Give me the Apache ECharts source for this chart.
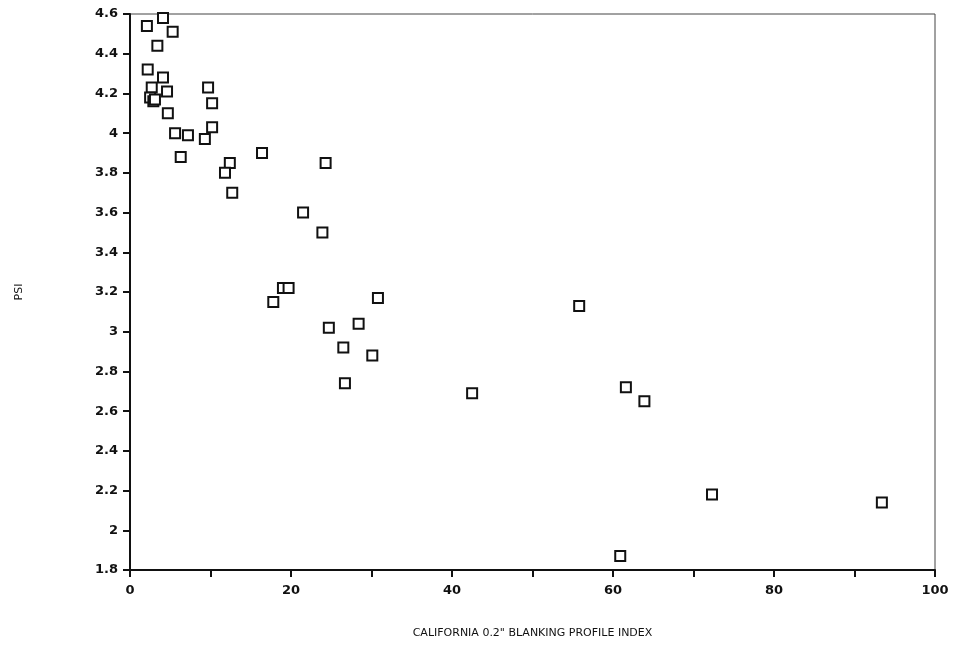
<!DOCTYPE html>
<html>
<head>
<meta charset="utf-8">
<script src="https://cdn.jsdelivr.net/npm/echarts@6/dist/echarts.min.js"></script>
<style>html,body{margin:0;padding:0;background:#fff;}#c{width:953px;height:645px;}</style>
</head>
<body>
<div id="c"></div>
<script>
const xValues = [2.1, 4.1, 5.3, 3.4, 2.2, 4.1, 2.7, 4.6, 2.5, 2.9, 3.1, 4.7, 5.6, 7.2, 6.3, 9.7, 10.2, 10.2, 9.3, 12.4, 11.8, 12.7, 16.4, 24.3, 21.5, 23.9, 19.0, 19.7, 17.8, 30.8, 24.7, 28.4, 26.5, 30.1, 26.7, 42.5, 55.8, 61.6, 63.9, 72.3, 93.4, 60.9];
const psiValues = [4.54, 4.58, 4.51, 4.44, 4.32, 4.28, 4.23, 4.21, 4.18, 4.16, 4.17, 4.10, 4.00, 3.99, 3.88, 4.23, 4.15, 4.03, 3.97, 3.85, 3.80, 3.70, 3.90, 3.85, 3.60, 3.50, 3.22, 3.22, 3.15, 3.17, 3.02, 3.04, 2.92, 2.88, 2.74, 2.69, 3.13, 2.72, 2.65, 2.18, 2.14, 1.87];
const xTitle = 'CALIFORNIA 0.2" BLANKING PROFILE INDEX';
const yTitle = 'PSI';

const chart = echarts.init(document.getElementById('c'));
const font = 'DejaVu Sans';
chart.setOption({
  animation: false,
  backgroundColor: '#fff',
  grid: {left: 130, right: 18, top: 14, bottom: 75, show: true, borderColor: '#444', borderWidth: 1},
  xAxis: {
    type: 'value', min: 0, max: 100, interval: 10,
    name: xTitle, nameLocation: 'middle', nameGap: 58,
    nameTextStyle: {fontFamily: font, fontSize: 11, color: '#111'},
    axisLine: {lineStyle: {color: '#111', width: 2}},
    axisTick: {length: 7, lineStyle: {color: '#111', width: 2}},
    axisLabel: {fontFamily: font, fontSize: 13, fontWeight: 'bold', color: '#111', margin: 14,
      formatter: v => (v % 20 === 0 ? String(v) : '')},
    splitLine: {show: false}
  },
  yAxis: {
    type: 'value', min: 1.8, max: 4.6, interval: 0.2,
    name: yTitle, nameLocation: 'middle', nameGap: 105,
    nameTextStyle: {fontFamily: font, fontSize: 11, color: '#111'},
    axisLine: {lineStyle: {color: '#111', width: 2}},
    axisTick: {length: 7, lineStyle: {color: '#111', width: 2}},
    axisLabel: {fontFamily: font, fontSize: 13, fontWeight: 'bold', color: '#111', margin: 12,
      formatter: v => String(parseFloat(v.toFixed(1)))},
    splitLine: {show: false}
  },
  series: [{
    type: 'scatter',
    data: xValues.map((x, i) => [x, psiValues[i]]),
    symbol: 'rect', symbolSize: 10,
    itemStyle: {color: '#fff', borderColor: '#111', borderWidth: 2, opacity: 1}
  }]
});
</script>
</body>
</html>
